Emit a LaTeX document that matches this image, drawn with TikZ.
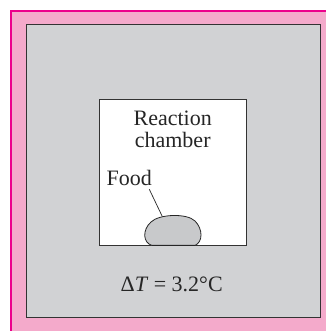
\documentclass[tikz,border=0pt]{standalone}
\usepackage{fontspec}
\setmainfont{Liberation Serif}
\definecolor{pinkbg}{HTML}{F4AACB}
\definecolor{magentaline}{HTML}{EC008C}
\definecolor{graybg}{HTML}{D1D2D4}
\definecolor{foodgray}{HTML}{C8C9CB}
\definecolor{edge}{HTML}{333333}
\begin{document}
\begin{tikzpicture}[x=1pt,y=1pt,
  lbl/.style={font=\fontsize{22}{24}\selectfont, inner sep=0pt, text=black!85}]
\useasboundingbox (0,0) rectangle (325,331);
% pink panel
\fill[pinkbg] (10,-5) rectangle (330,321);
\draw[magentaline, line width=2pt] (11,-5) -- (11,320) -- (330,320);
% gray field
\draw[fill=graybg, draw=edge, line width=1pt] (26.7,13) rectangle (320,306);
% reaction chamber
\draw[fill=white, draw=edge, line width=0.8pt] (99.3,85.3) rectangle (246.7,232);
% food blob
\draw[fill=foodgray, draw=black!85, line width=0.8pt]
  (152,85.6) .. controls (143,88) and (142,101) .. (151,109)
  .. controls (159,117) and (187,118) .. (195,110)
  .. controls (203,102) and (203,89) .. (195,85.6) -- cycle;
\coordinate (foodtop) at (162.3,114.5);
% labels
\node[lbl, anchor=base] (reaction) at (172.7,205) {Reaction};
\node[lbl, anchor=base] (chamber) at (172.7,183) {chamber};
\node[lbl, anchor=base west] (food) at (106.5,145.3) {Food};
\coordinate (foodlead) at (149.3,141.7);
\draw[black!85, line width=0.7pt] (foodlead) -- (foodtop);
\node[lbl, anchor=base] (dt) at (171.7,39.3) {Δ\textit{T} = 3.2°C};
\end{tikzpicture}
\end{document}
